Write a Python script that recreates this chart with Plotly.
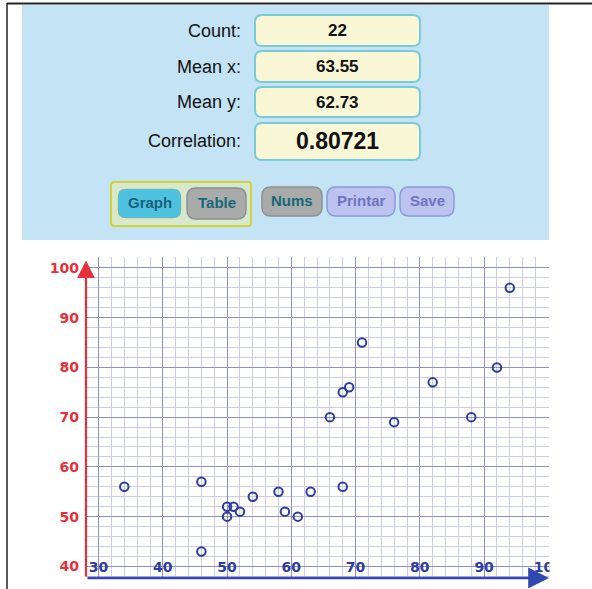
import plotly.graph_objects as go

# ---------------- data ----------------
x_vals = [34, 46, 46, 50, 50, 51, 52, 54, 58, 59, 61, 63, 68, 66, 76, 68, 69, 71, 82, 88, 92, 94]
y_vals = [56, 57, 43, 52, 50, 52, 51, 54, 55, 51, 50, 55, 56, 70, 69, 75, 76, 85, 77, 70, 80, 96]
x_ticks = [30, 40, 50, 60, 70, 80, 90, 100]
y_ticks = [40, 50, 60, 70, 80, 90, 100]
stat_labels = ["Count:", "Mean x:", "Mean y:", "Correlation:"]
stat_values = ["22", "63.55", "62.73", "0.80721"]
buttons = ["Graph", "Table", "Nums", "Printar", "Save"]

# ---------------- geometry (pixels) ----------------
WIDTH, HEIGHT = 592, 589
L, R, T, B = 86, 549, 257, 578
PW, PH = R - L, B - T
X_RANGE = [28.04, 100.1]
Y_RANGE = [37.66, 102.2]


def px(x):
    return (x - L) / PW


def py(y):
    return (B - y) / PH


def rrect(x0, y0, x1, y1, r, fill, line, lw=2):
    # rounded rectangle in paper coordinates, given pixel corners
    pts = (
        f"M {px(x0 + r)} {py(y0)} L {px(x1 - r)} {py(y0)} "
        f"Q {px(x1)} {py(y0)} {px(x1)} {py(y0 + r)} "
        f"L {px(x1)} {py(y1 - r)} "
        f"Q {px(x1)} {py(y1)} {px(x1 - r)} {py(y1)} "
        f"L {px(x0 + r)} {py(y1)} "
        f"Q {px(x0)} {py(y1)} {px(x0)} {py(y1 - r)} "
        f"L {px(x0)} {py(y0 + r)} "
        f"Q {px(x0)} {py(y0)} {px(x0 + r)} {py(y0)} Z"
    )
    return dict(type="path", xref="paper", yref="paper", path=pts,
                fillcolor=fill, line=dict(color=line, width=lw), layer="above")


shapes = []
annotations = []

# page frame lines
shapes.append(dict(type="line", xref="paper", yref="paper",
                   x0=px(7), x1=px(592), y0=py(3.5), y1=py(3.5),
                   line=dict(color="#222222", width=2), layer="above"))
shapes.append(dict(type="line", xref="paper", yref="paper",
                   x0=px(7), x1=px(7), y0=py(3), y1=py(589),
                   line=dict(color="#222222", width=1.5), layer="above"))
# info panel
shapes.append(dict(type="rect", xref="paper", yref="paper",
                   x0=px(22), x1=px(549), y0=py(5), y1=py(240),
                   fillcolor="#C4E3F5", line=dict(width=0), layer="above"))
# clip the last x tick label at the plot's right edge (as in the source)
shapes.append(dict(type="rect", xref="paper", yref="paper",
                   x0=px(549.5), x1=px(580), y0=py(576), y1=py(560),
                   fillcolor="white", line=dict(width=0), layer="above"))

# stat boxes
boxes = [(15, 46), (51, 82), (87, 117), (123, 160)]
for i, (lab, val) in enumerate(zip(stat_labels, stat_values)):
    y0, y1 = boxes[i]
    shapes.append(rrect(255, y0, 420, y1, 7, "#F9F7D6", "#78CCD8", 2))
    cy = (y0 + y1) / 2
    annotations.append(dict(xref="paper", yref="paper", x=px(243), y=py(cy),
                            text=lab, showarrow=False, xanchor="right", yanchor="middle",
                            font=dict(family="Liberation Sans, Arial", size=18, color="#111111")))
    annotations.append(dict(xref="paper", yref="paper", x=px(337.5), y=py(cy),
                            text=f"<b>{val}</b>", showarrow=False, xanchor="center", yanchor="middle",
                            font=dict(family="Liberation Sans, Arial",
                                      size=23 if i == 3 else 17, color="#111111")))

# button group box
shapes.append(rrect(111, 182, 251, 226, 3, "#D6E9CF", "#D4D43A", 2))
btn_geo = [
    (117, 188, 182, 219, "#4FC1E0", "#F1E3A6", "#17627A"),
    (187, 188, 246, 219, "#A9ABAB", "#8E9090", "#17687A"),
    (262, 187, 322, 216, "#A9ABAB", "#8E9090", "#17687A"),
    (327, 187, 395, 216, "#BCC3EE", "#8C9CDA", "#7272C2"),
    (400, 187, 454, 216, "#BCC3EE", "#8C9CDA", "#7272C2"),
]
for name, (x0, y0, x1, y1, fill, line, tc) in zip(buttons, btn_geo):
    shapes.append(rrect(x0, y0, x1, y1, 9, fill, line, 1.5))
    annotations.append(dict(xref="paper", yref="paper", x=px((x0 + x1) / 2), y=py((y0 + y1) / 2 - 1),
                            text=f"<b>{name}</b>", showarrow=False, xanchor="center", yanchor="middle",
                            font=dict(family="Liberation Sans, Arial", size=15, color=tc)))

# axis arrows
annotations.append(dict(x=X_RANGE[0], y=101.5, ax=X_RANGE[0], ay=Y_RANGE[0],
                        xref="x", yref="y", axref="x", ayref="y", text="",
                        showarrow=True, arrowhead=2, arrowsize=1.6, arrowwidth=2.2,
                        arrowcolor="#E8303C"))
annotations.append(dict(x=X_RANGE[1], y=Y_RANGE[0], ax=X_RANGE[0], ay=Y_RANGE[0],
                        xref="x", yref="y", axref="x", ayref="y", text="",
                        showarrow=True, arrowhead=2, arrowsize=1.6, arrowwidth=2.6,
                        arrowcolor="#3048B0"))

fig = go.Figure()
fig.add_trace(go.Scatter(
    x=x_vals, y=y_vals, mode="markers",
    marker=dict(symbol="circle-open", size=8.5, color="#2E3C9E", line=dict(width=2, color="#2E3C9E")),
    hoverinfo="x+y", showlegend=False,
))

fig.update_layout(
    width=WIDTH, height=HEIGHT,
    margin=dict(l=L, r=WIDTH - R, t=T, b=HEIGHT - B, pad=0),
    paper_bgcolor="white", plot_bgcolor="white",
    shapes=shapes, annotations=annotations,
    xaxis=dict(
        range=X_RANGE, tickvals=x_ticks, ticktext=[str(v) for v in x_ticks],
        showgrid=True, gridcolor="#8E8ED4", gridwidth=1.3,
        minor=dict(dtick=2, tick0=0, showgrid=True, gridcolor="#CBCBF0", gridwidth=1),
        zeroline=False, showline=False, ticks="",
        ticklabelposition="inside", ticklabeloverflow="allow",
        tickfont=dict(family="DejaVu Sans", size=14, color="#2E3C9E", weight="bold"),
        fixedrange=True,
    ),
    yaxis=dict(
        range=Y_RANGE, tickvals=y_ticks, ticktext=[str(v) for v in y_ticks],
        showgrid=True, gridcolor="#8E8ED4", gridwidth=1.3,
        minor=dict(dtick=2, tick0=0, showgrid=True, gridcolor="#CBCBF0", gridwidth=1),
        zeroline=False, showline=False, ticks="",
        ticklabelstandoff=6, ticklabeloverflow="allow",
        tickfont=dict(family="DejaVu Sans", size=14, color="#E8303C", weight="bold"),
        fixedrange=True,
    ),
)

fig.write_html(
    "out.html",
    config={"displayModeBar": False},
    post_script="document.body.style.margin='0';document.body.style.overflow='hidden';",
)
